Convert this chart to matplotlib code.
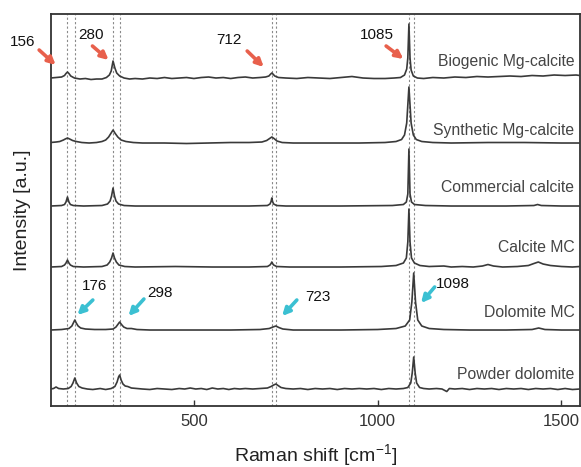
import numpy as np
import matplotlib
matplotlib.use('Agg')
import matplotlib.pyplot as plt

plt.rcParams['font.family'] = ['Liberation Sans', 'DejaVu Sans']
plt.rcParams['mathtext.default'] = 'regular'

# Spectra: (Raman shift, relative intensity above own baseline)
biogenic = [(110, 0), (125, 0.5), (140, 1), (148, 2.5), (152, 4.5), (156, 6), (160, 4.5), (165, 2),
            (175, 0), (190, -1), (205, -0.5), (220, -1.5), (235, -1), (250, -1), (262, 0.5), (270, 3),
            (275, 7), (280, 17), (285, 10), (290, 5), (298, 2), (310, 0), (325, -1), (340, -0.5),
            (360, -1), (380, 0), (400, -0.5), (420, 0.5), (440, -0.5), (460, 0), (480, 0.5), (500, -0.5),
            (520, 0.5), (540, 1), (560, 0), (580, 0.5), (600, -0.5), (620, 0.5), (640, 1), (660, 0),
            (680, 0.5), (695, 1), (704, 2), (709, 4), (712, 5), (715, 4), (720, 2), (730, 0.5), (750, 0),
            (780, -0.5), (810, 0.5), (840, 0), (870, -0.5), (900, 0.5), (930, 1.5), (960, 0), (990, -0.5),
            (1020, -0.5), (1045, 0), (1062, 0.5), (1073, 3), (1079, 9), (1082, 20), (1085, 54), (1088, 20),
            (1091, 8), (1097, 2), (1108, 0), (1125, -0.5), (1150, 0.5), (1180, 0), (1210, 1), (1240, 0.5),
            (1270, 1.5), (1300, 1), (1330, 1.5), (1360, 2), (1390, 1.5), (1420, 2.5), (1450, 2),
            (1480, 3), (1510, 2.5), (1540, 3), (1550, 2.5)]

synthetic = [(110, 0.5), (125, 1), (135, 1.5), (145, 3), (150, 4), (156, 5), (162, 4), (170, 2.5),
             (180, 1.5), (195, 0.5), (215, 0), (235, 0.5), (250, 1.5), (260, 3), (268, 6), (274, 9.5),
             (280, 13), (286, 9.5), (293, 6), (302, 3), (315, 1.5), (335, 0.5), (360, 0), (420, 0),
             (480, -0.5), (540, 0), (600, 0.5), (650, 0.5), (685, 1), (698, 2.5), (706, 4.5), (712, 6),
             (718, 4.5), (726, 2), (740, 0.5), (770, 0), (850, 0), (950, 0), (1020, 0.5), (1050, 1.5),
             (1065, 3.5), (1073, 8), (1079, 20), (1082, 38), (1085, 56), (1088, 38), (1091, 20),
             (1097, 8), (1105, 3.5), (1120, 1.5), (1150, 0.5), (1200, 0), (1300, 0.5), (1400, 0.5),
             (1500, 0), (1550, 0)]

commercial = [(110, 0), (140, 0.5), (148, 1.5), (152, 4), (156, 9), (160, 4), (164, 1.5), (172, 0.5),
              (200, 0), (250, 0.5), (265, 2), (272, 5), (276, 10), (280, 18), (284, 10), (288, 5),
              (295, 2), (310, 0.5), (340, 0), (500, 0), (650, 0), (700, 0.5), (707, 2), (710, 4.5),
              (712, 8), (714, 4.5), (717, 2), (725, 0.5), (750, 0), (900, 0), (1040, 0.5), (1070, 1.5),
              (1078, 4), (1082, 12), (1085, 57), (1088, 12), (1092, 4), (1100, 1.5), (1130, 0.5),
              (1200, 0), (1350, 0), (1425, 0.5), (1435, 1.5), (1445, 0.5), (1500, 0), (1550, 0)]

calcite_mc = [(110, 0), (140, 0.5), (148, 2), (152, 4), (156, 7), (160, 4), (164, 2), (172, 0.5),
              (200, 0), (250, 0.5), (264, 2), (271, 5), (276, 9), (280, 14), (284, 9), (289, 5),
              (296, 2), (312, 0.5), (340, 0), (450, 0.5), (550, 0), (650, 0), (700, 0.5), (707, 2),
              (710, 3.5), (712, 5), (714, 3.5), (717, 2), (725, 0.5), (760, 0), (900, 0), (1010, 0.5),
              (1050, 1.5), (1070, 4), (1078, 9), (1082, 25), (1085, 58), (1088, 25), (1092, 9),
              (1100, 4), (1115, 1.5), (1140, 0.5), (1180, 1), (1200, 0), (1230, 0.5), (1260, 0),
              (1285, 1), (1300, 2.5), (1315, 1), (1340, 0), (1380, 0.5), (1410, 1.5), (1425, 3.5),
              (1437, 5), (1450, 3), (1470, 1.5), (1500, 0.5), (1530, 0), (1550, 0.5)]

dolomite_mc = [(110, 0), (140, 0.5), (160, 1.5), (168, 4), (172, 7), (176, 10), (180, 7), (185, 4),
               (192, 2), (205, 1), (230, 0.5), (260, 0.5), (280, 1), (288, 3), (293, 5.5), (298, 8),
               (303, 5.5), (309, 3), (318, 1.5), (330, 1.5), (345, 0.5), (380, 0), (500, 0), (600, 0),
               (680, 0.5), (705, 1.5), (715, 3), (723, 4), (731, 2.5), (742, 1), (770, 0), (900, 0),
               (1000, 0.5), (1050, 1.5), (1075, 4), (1087, 10), (1093, 28), (1098, 57), (1103, 28),
               (1109, 10), (1120, 4), (1140, 1.5), (1180, 0.5), (1250, 0), (1350, 0), (1420, 0.5),
               (1438, 2), (1455, 0.5), (1500, 0), (1550, 0)]

powder_dolomite = [(110, 0), (118, 0.5), (125, 2), (132, 0.5), (145, 0), (158, 0.5), (166, 2.5),
                   (171, 6), (176, 11), (181, 6), (187, 2.5), (196, 1), (210, 0), (225, -0.5),
                   (245, 0.5), (260, -0.5), (275, 0.5), (285, 2.5), (291, 7), (295, 12), (298, 14),
                   (302, 9), (307, 5), (313, 3), (320, 2.5), (330, 1), (345, 0.5), (360, 0),
                   (380, -0.5), (400, 0.5), (420, 0), (440, -0.5), (460, 0.5), (475, 0), (490, 1),
                   (505, 0), (520, 0.5), (535, -0.5), (550, 1), (565, 0), (580, 0.5), (595, -0.5),
                   (610, 0.5), (625, 0), (640, 0.5), (660, 0), (680, 0.5), (700, 1), (710, 2.5),
                   (717, 4), (723, 5), (729, 3.5), (737, 1.5), (750, 0.5), (770, 0), (790, 0.5),
                   (810, -0.5), (830, 0.5), (850, 0), (870, 0.5), (890, -0.5), (910, 0.5), (930, 0),
                   (950, 0.5), (970, 0), (990, 0.5), (1010, -0.5), (1030, 0.5), (1050, 0), (1070, 0.5),
                   (1082, 1.5), (1090, 6), (1094, 16), (1098, 32), (1102, 16), (1106, 6), (1114, 1.5),
                   (1125, 0.5), (1140, 0), (1160, 0.5), (1175, 0), (1188, -2.5), (1195, 0.5),
                   (1210, 0), (1230, 0.5), (1250, -0.5), (1270, 0.5), (1290, 0), (1310, 0.5),
                   (1330, -0.5), (1350, 0.5), (1370, 0), (1390, 0.5), (1410, -0.5), (1430, 0.5),
                   (1450, 0), (1470, 0.5), (1490, -0.5), (1510, 0.5), (1530, -0.5), (1550, 0)]

spectra = [biogenic, synthetic, commercial, calcite_mc, dolomite_mc, powder_dolomite]
sample_names = ['Biogenic Mg-calcite', 'Synthetic Mg-calcite', 'Commercial calcite',
                'Calcite MC', 'Dolomite MC', 'Powder dolomite']
offsets = [328, 263, 200, 139, 76, 17]

# Marked band positions
calcite_peaks = [156, 280, 712, 1085]
dolomite_peaks = [176, 298, 723, 1098]

# Layout of annotations (label position, arrow tail, arrow head) in data units
calcite_ann = [((35, 364), (79, 356), (124, 341)),
               ((220, 371), (224, 360), (268, 346)),
               ((596, 366), (645, 355), (690, 339)),
               ((998, 371), (1023, 360), (1070, 347))]
dolomite_ann = [((231, 120), (225, 106), (183, 91)),
                ((408, 113), (364, 107), (322, 90)),
                ((838, 109), (780, 106), (740, 90)),
                ((1205, 122), (1155, 119), (1118, 103))]
label_y = [345, 276, 219, 159, 94, 32]

red = '#E8604C'
cyan = '#3BC0D2'
line_col = '#3a3a3a'

fig = plt.figure(figsize=(5.81, 4.67), dpi=100)
ax = fig.add_axes([0.087, 0.1306, 0.911, 0.8394])

for pk in calcite_peaks + dolomite_peaks:
    ax.axvline(pk, color='#8a8a8a', lw=0.8, ls=(0, (2, 2)), zorder=1)

for spec, off in zip(spectra, offsets):
    arr = np.array(spec, dtype=float)
    ax.plot(arr[:, 0], arr[:, 1] + off, color=line_col, lw=1.2, zorder=3)

for name, y in zip(sample_names, label_y):
    ax.text(1535, y, name, ha='right', va='center', fontsize=11.3, color='#444444')

arrow_kw = dict(arrowstyle='-|>', lw=2.6, mutation_scale=11, shrinkA=0, shrinkB=0)

for pk, (lab, tail, head) in zip(calcite_peaks, calcite_ann):
    ax.annotate('', xy=head, xytext=tail, annotation_clip=False,
                arrowprops=dict(color=red, **arrow_kw))
    ax.text(lab[0], lab[1], str(pk), ha='center', va='center', fontsize=11, color='#111111',
            clip_on=False)

for pk, (lab, tail, head) in zip(dolomite_peaks, dolomite_ann):
    ax.annotate('', xy=head, xytext=tail,
                arrowprops=dict(color=cyan, **arrow_kw))
    ax.text(lab[0], lab[1], str(pk), ha='center', va='center', fontsize=11, color='#111111')

ax.set_xlim(110, 1550)
ax.set_ylim(0, 392)
ax.set_xticks([500, 1000, 1500])
ax.set_yticks([])
ax.tick_params(axis='x', direction='in', length=4.5, width=1, labelsize=12, colors='#333333',
               pad=6)
for sp in ax.spines.values():
    sp.set_color('#333333')
    sp.set_linewidth(1.3)

ax.set_xlabel('Raman shift [cm$^{-1}$]', fontsize=14, color='#222222', labelpad=9)
ax.set_ylabel('Intensity [a.u.]', fontsize=14, color='#222222', labelpad=14)

fig.savefig('out.png', dpi=100)
